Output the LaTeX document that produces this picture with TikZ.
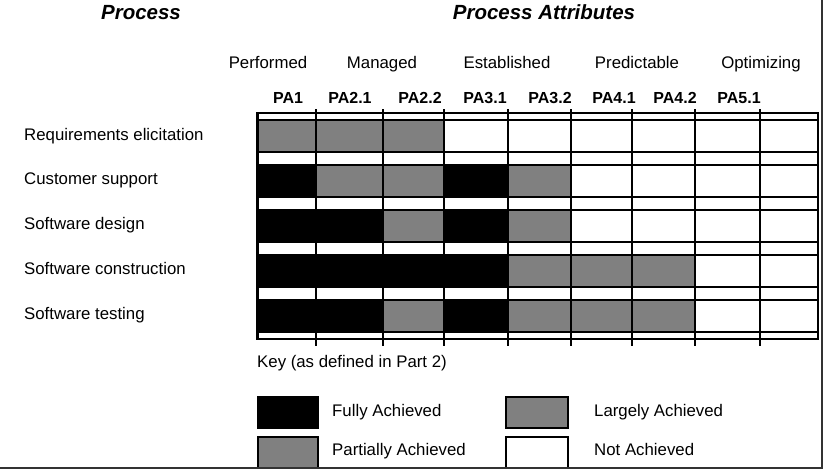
\documentclass[tikz,border=0pt]{standalone}
\usepackage{fontspec}
\setmainfont{Liberation Sans}
\definecolor{cellgray}{HTML}{808080}
\definecolor{framegray}{HTML}{333333}
\begin{document}
\begin{tikzpicture}[x=1pt,y=-1pt,
  lbl/.style={font=\fontsize{16.8}{19}\selectfont, inner sep=0pt, anchor=base},
  rowlbl/.style={lbl, anchor=base west},
  ttl/.style={font=\fontsize{20.5}{23}\selectfont\bfseries\itshape, inner sep=0pt, anchor=base},
  pa/.style={font=\fontsize{16}{18}\selectfont\bfseries, inner sep=0pt, anchor=base},
  cF/.style={fill=black,draw=black,line width=1.5pt},
  cG/.style={fill=cellgray,draw=black,line width=1.5pt},
  cN/.style={fill=white,draw=black,line width=1.5pt},
  gridline/.style={line width=1.6pt},
  keybox/.style={line width=2pt,draw=black},
]
\useasboundingbox (0,0) rectangle (826,472);
\def\colx{{257,316,383,444,508,571,632,695,760,818}}
% titles
\node[ttl] (tproc) at (141,19) {Process};
\node[ttl] (tattr) at (544,19) {Process Attributes};
% levels
\node[lbl] (lv1) at (268,68) {Performed};
\node[lbl] (lv2) at (382,68) {Managed};
\node[lbl] (lv3) at (507,68) {Established};
\node[lbl] (lv4) at (637,68) {Predictable};
\node[lbl] (lv5) at (761,68) {Optimizing};
% PA labels
\node[pa] (pa1) at (288,103) {PA1};
\node[pa] (pa21) at (350,103) {PA2.1};
\node[pa] (pa22) at (420,103) {PA2.2};
\node[pa] (pa31) at (485,103) {PA3.1};
\node[pa] (pa32) at (550,103) {PA3.2};
\node[pa] (pa41) at (614,103) {PA4.1};
\node[pa] (pa42) at (675,103) {PA4.2};
\node[pa] (pa51) at (739,103) {PA5.1};
% row labels
\node[rowlbl] (r1) at (24,140) {Requirements elicitation};
\node[rowlbl] (r2) at (24,184.5) {Customer support};
\node[rowlbl] (r3) at (24,229.5) {Software design};
\node[rowlbl] (r4) at (24,274.5) {Software construction};
\node[rowlbl] (r5) at (24,319.5) {Software testing};
% cells
\foreach \yt/\codes in {
  120/{cG,cG,cG,cN,cN,cN,cN,cN,cN},
  165/{cF,cG,cG,cF,cG,cN,cN,cN,cN},
  210/{cF,cF,cG,cF,cG,cN,cN,cN,cN},
  255/{cF,cF,cF,cF,cG,cG,cG,cN,cN},
  300/{cF,cF,cG,cF,cG,cG,cG,cN,cN}} {
  \foreach \c [count=\i from 0] in \codes {
    \pgfmathsetmacro\xa{\colx[\i]}
    \pgfmathsetmacro\xb{\colx[\i+1]}
    \draw[\c] (\xa,\yt) rectangle (\xb,\yt+32);
  }
}
% horizontal grid lines
\foreach \y in {113,120,152,165,197,210,242,255,287,300,332,339}
  \draw[gridline] (257,\y) -- (818,\y);
% vertical grid lines with ticks
\foreach \x in {316,383,444,508,571,632,695,760}
  \draw[gridline] (\x,109) -- (\x,346);
\draw[line width=3pt] (257,112) -- (257,340);
\draw[gridline] (818,112.2) -- (818,339.8);
% key
\node[lbl, anchor=base west] (key) at (257,367) {Key (as defined in Part 2)};
\draw[keybox, fill=black] (258,397) rectangle (318,428);
\node[lbl, anchor=base west] (kf) at (332,416) {Fully Achieved};
\draw[keybox, fill=cellgray] (506,397) rectangle (568,428);
\node[lbl, anchor=base west] (kl) at (594,416) {Largely Achieved};
\draw[keybox, fill=cellgray] (258,437) rectangle (318,468);
\node[lbl, anchor=base west] (kp) at (332,455) {Partially Achieved};
\draw[keybox, fill=white] (506,437) rectangle (568,468);
\node[lbl, anchor=base west] (kn) at (594,455) {Not Achieved};
% frame
\draw[framegray, line width=2pt] (0,467.5) -- (822,467.5) -- (822,0);
\end{tikzpicture}
\end{document}
